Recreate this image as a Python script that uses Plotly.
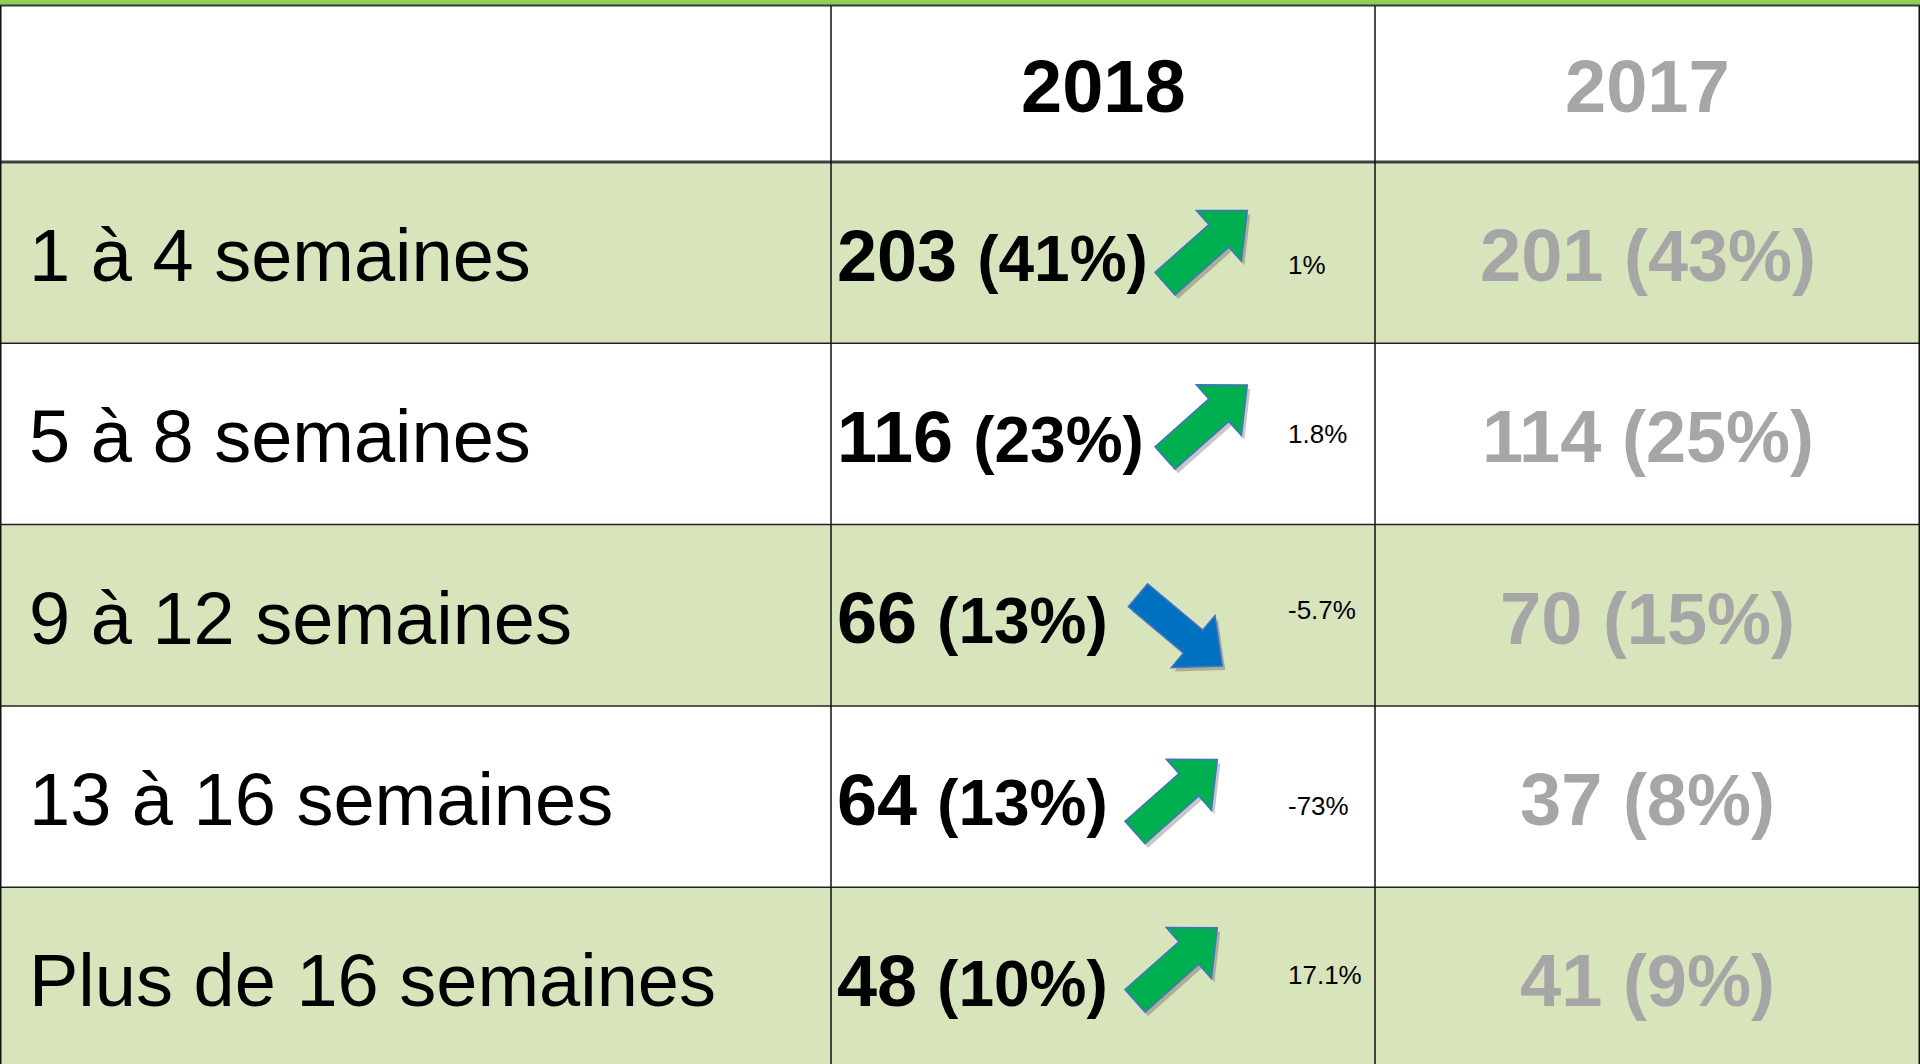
import math
import plotly.graph_objects as go

# ---------------- data ----------------
years = ["2018", "2017"]
categories = ["1 à 4 semaines", "5 à 8 semaines", "9 à 12 semaines",
              "13 à 16 semaines", "Plus de 16 semaines"]
counts_2018 = [203, 116, 66, 64, 48]
pct_2018 = [41, 23, 13, 13, 10]
counts_2017 = [201, 114, 70, 37, 41]
pct_2017 = [43, 25, 15, 8, 9]
change_labels = ["1%", "1.8%", "-5.7%", "-73%", "17.1%"]
trend = ["up", "up", "down", "up", "up"]

# ---------------- layout constants ----------------
W, H = 1920, 1064
TOP = 6
HEADER_BOTTOM = 162
ROW_H = 181.3
COL_X = [0, 831, 1375, 1920]
BAND = "#D8E4BC"
GRAY = "#A6A6A6"
GREEN_BAR = "#92D050"
UP_FILL = "#00B050"
DOWN_FILL = "#0070C0"
ARROW_EDGE = "#4472C4"
FONT = "Liberation Sans, Arial, sans-serif"
ARROW_DY = [-2, -9, 0, 3, -10]
LABEL_DY = [12, 0, -5, 9, -3]
ARROW_LEN = 110

fig = go.Figure()
fig.add_trace(go.Scatter(x=[0, W], y=[0, H], mode="markers",
                         marker=dict(opacity=0), hoverinfo="skip", showlegend=False))

shapes = []
annotations = []

# green top bar
shapes.append(dict(type="rect", x0=0, x1=W, y0=0, y1=TOP - 1, fillcolor=GREEN_BAR,
                   line=dict(width=0), layer="below"))

n = len(categories)
row_top = [HEADER_BOTTOM + i * ROW_H for i in range(n)]

# banded rows
for i in range(n):
    if i % 2 == 0:
        shapes.append(dict(type="rect", x0=0, x1=W, y0=row_top[i], y1=row_top[i] + ROW_H,
                           fillcolor=BAND, line=dict(width=0), layer="below"))

# horizontal lines
shapes.append(dict(type="line", x0=0, x1=W, y0=TOP - 0.5, y1=TOP - 0.5,
                   line=dict(color="#3A3A3A", width=2)))
shapes.append(dict(type="line", x0=0, x1=W, y0=HEADER_BOTTOM, y1=HEADER_BOTTOM,
                   line=dict(color="#404040", width=3)))
for i in range(1, n):
    shapes.append(dict(type="line", x0=0, x1=W, y0=row_top[i], y1=row_top[i],
                       line=dict(color="#222222", width=1.5)))
# vertical lines
for xv in COL_X:
    xx = min(max(xv, 0.75), W - 0.75)
    shapes.append(dict(type="line", x0=xx, x1=xx, y0=TOP, y1=H,
                       line=dict(color="#111111", width=1.5)))

# header texts
hy = (TOP + HEADER_BOTTOM) / 2 + 2
for j, yr in enumerate(years):
    cx = (COL_X[j + 1] + COL_X[j + 2]) / 2
    annotations.append(dict(x=cx, y=hy, text=f"<b>{yr}</b>", showarrow=False,
                            xanchor="center", yanchor="middle",
                            font=dict(family=FONT, size=74,
                                      color="#000000" if j == 0 else GRAY)))


def arrow_path(tx, ty, angle_deg, L=110, sw=15, hw=34, hl=38):
    a = math.radians(angle_deg)
    ux, uy = math.cos(a), math.sin(a)
    nx, ny = -uy, ux
    bx, by = tx + ux * (L - hl), ty + uy * (L - hl)
    pts = [
        (tx + nx * sw, ty + ny * sw),
        (bx + nx * sw, by + ny * sw),
        (bx + nx * hw, by + ny * hw),
        (tx + ux * L, ty + uy * L),
        (bx - nx * hw, by - ny * hw),
        (bx - nx * sw, by - ny * sw),
        (tx - nx * sw, ty - ny * sw),
    ]
    return "M " + " L ".join(f"{x:.1f},{y:.1f}" for x, y in pts) + " Z"


for i in range(n):
    cy = row_top[i] + ROW_H / 2
    # category label
    annotations.append(dict(x=27, y=cy + 3, text=categories[i], showarrow=False,
                            xanchor="left", yanchor="middle",
                            font=dict(family=FONT, size=74, color="#000000")))
    # 2018 value
    t18 = (f"<b><span style='font-size:72px'>{counts_2018[i]}</span> "
           f"<span style='font-size:64px'>({pct_2018[i]}%)</span></b>")
    annotations.append(dict(x=835, y=cy + 3, text=t18, showarrow=False,
                            xanchor="left", yanchor="middle",
                            font=dict(family=FONT, size=72, color="#000000")))
    # 2017 value
    cx17 = (COL_X[2] + COL_X[3]) / 2
    t17 = (f"<b><span style='font-size:74px'>{counts_2017[i]}</span> "
           f"<span style='font-size:72px'>({pct_2017[i]}%)</span></b>")
    annotations.append(dict(x=cx17, y=cy + 3, text=t17, showarrow=False,
                            xanchor="center", yanchor="middle",
                            font=dict(family=FONT, size=74, color=GRAY)))
    # change label
    annotations.append(dict(x=1286, y=cy + LABEL_DY[i], text=change_labels[i],
                            showarrow=False, xanchor="left", yanchor="middle",
                            font=dict(family=FONT, size=26, color="#000000")))
    # arrow
    nd = len(str(counts_2018[i]))
    if trend[i] == "up":
        tx = 1165 - 30 * (3 - nd)
        ty = cy + 33 + ARROW_DY[i]
        ang = -41.6
        fill = UP_FILL
    else:
        tx = 1168 - 30 * (3 - nd)
        ty = cy - 20 + ARROW_DY[i]
        ang = 40
        fill = DOWN_FILL
    shapes.append(dict(type="path", path=arrow_path(tx + 3, ty + 4, ang, L=ARROW_LEN),
                       fillcolor="rgba(0,0,0,0.22)", line=dict(width=0)))
    shapes.append(dict(type="path", path=arrow_path(tx, ty, ang, L=ARROW_LEN),
                       fillcolor=fill, line=dict(color=ARROW_EDGE, width=1.5)))

fig.update_layout(
    width=W, height=H,
    margin=dict(l=0, r=0, t=0, b=0),
    paper_bgcolor="#FFFFFF", plot_bgcolor="#FFFFFF",
    xaxis=dict(range=[0, W], visible=False, fixedrange=True),
    yaxis=dict(range=[H, 0], visible=False, fixedrange=True),
    shapes=shapes, annotations=annotations, showlegend=False,
)

fig.write_html(
    "out.html",
    config={"displayModeBar": False},
    post_script="document.body.style.margin='0';document.body.style.overflow='hidden';",
)
